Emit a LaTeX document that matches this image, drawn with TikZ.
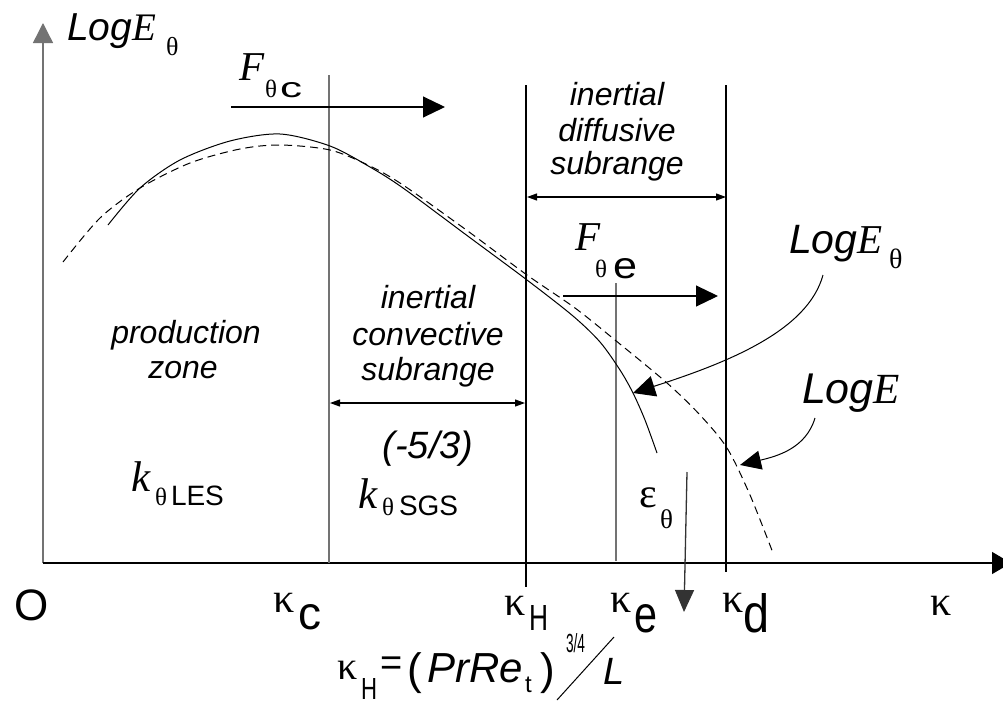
\documentclass[tikz,border=0pt]{standalone}
\usepackage{fontspec}
\setmainfont{Liberation Sans}
\newfontfamily\tmr{Liberation Serif}
\usetikzlibrary{arrows.meta}
\newcommand\fsz[1]{\fontsize{#1}{#1}\selectfont}
\begin{document}
\begin{tikzpicture}[x=1pt,y=-1pt,
  txt/.style={inner sep=0pt, outer sep=0pt, anchor=base west},
  ctr/.style={inner sep=0pt, outer sep=0pt, anchor=base},
  curve/.style={line width=1pt, black},
  dcurve/.style={line width=1pt, black, dash pattern=on 8pt off 5pt},
  bigarrow/.style={line width=1.1pt, -{Triangle[length=22pt,width=21pt]}},
  dblarrow/.style={line width=1.1pt, {Triangle[length=10pt,width=7pt]}-{Triangle[length=10pt,width=7pt]}},
  glin/.style={line width=1.4pt, draw=black!55},
  blin/.style={line width=1.1pt, draw=black},
  itxt/.style={ctr, font=\itshape\fsz{32}}
]
\useasboundingbox (0,0) rectangle (1003,704);

% axes
\coordinate (orig) at (43,563);
\coordinate (ytip) at (43,23);
\coordinate (xtip) at (1011,563);
\draw[glin, -{Triangle[length=20pt,width=20pt]}] (orig) -- (ytip);
\draw[line width=1.4pt, -{Triangle[length=19pt,width=22pt]}] (orig) -- (xtip);

% vertical lines
\coordinate (kcT) at (329,75);  \coordinate (kcB) at (329,563);
\coordinate (kHT) at (526,85);  \coordinate (kHB) at (526,587);
\coordinate (keT) at (616,283); \coordinate (keB) at (616,561);
\coordinate (kdT) at (726,85);  \coordinate (kdB) at (726,572);
\draw[glin] (kcT) -- (kcB);
\draw[blin] (kHT) -- (kHB);
\draw[glin] (keT) -- (keB);
\draw[blin] (kdT) -- (kdB);

% curves
\draw[curve] plot[smooth, tension=0.5] coordinates {(108,225) (140,188) (180,160) (230,141) (280,134) (330,146) (370,167) (403,188) (465,234) (527,280) (573,316) (600,342) (620,370) (633,393) (645,420) (657,453)};
\draw[dcurve] plot[smooth, tension=0.5] coordinates {(63,262) (100,218) (140,188) (190,163) (240,149) (280,145) (330,150) (370,166) (403,185) (465,229) (527,275) (575,308) (615,340) (667,383) (700,415) (727,448) (750,495) (773,553)};

% flux arrows
\coordinate (fcS) at (231,107); \coordinate (fcE) at (445,107);
\draw[bigarrow] (fcS) -- (fcE);
\coordinate (feS) at (563,296); \coordinate (feE) at (718,296);
\draw[bigarrow] (feS) -- (feE);

% range arrows
\coordinate (icL) at (330,403); \coordinate (icR) at (525,403);
\draw[dblarrow] (icL) -- (icR);
\coordinate (idL) at (527,197); \coordinate (idR) at (726,197);
\draw[dblarrow] (idL) -- (idR);

% epsilon arrow
\coordinate (epS) at (687,472); \coordinate (epE) at (684,612);
\draw[line width=1.3pt, draw=black!80, -{Triangle[length=22pt,width=19pt]}] (epS) -- (epE);

% label arrows
\coordinate (s1) at (823,275); \coordinate (t1) at (633,393);
\draw[bigarrow, line width=1pt] (s1) .. controls (808,330) and (730,362) .. (t1);
\coordinate (s2) at (815,418); \coordinate (t2) at (740,465);
\draw[bigarrow, line width=1pt, -{Triangle[length=21pt,width=19pt]}] (s2) .. controls (806,448) and (778,456) .. (t2);

% y-axis label
\node[txt, font=\itshape\fsz{39}] (ylab) at (67,40) {Log{\tmr E}};
\node[txt, font=\tmr\fsz{26}] (ylabs) at (166,55) {θ};

% F theta c
\node[txt, font=\tmr\itshape\fsz{41}] (Fc) at (239,80) {F};
\node[txt, font=\tmr\fsz{25}] (Fcth) at (265,97) {θ};
\node[txt] (Fcc) at (280,97) {\resizebox{22pt}{15pt}{c}};

% inertial diffusive
\node[itxt] (id1) at (617,105) {inertial};
\node[itxt] (id2) at (617,141) {diffusive};
\node[itxt] (id3) at (617,174) {subrange};

% inertial convective
\node[itxt] (ic1) at (428,308) {inertial};
\node[itxt] (ic2) at (428,345) {convective};
\node[itxt] (ic3) at (428,380) {subrange};

% production zone
\node[itxt] (pz1) at (186,343) {production};
\node[itxt] (pz2) at (183,378) {zone};

% slope
\node[ctr, font=\itshape\fsz{38}] (slope) at (428,458) {(-5/3)};

% k LES / SGS
\node[txt, font=\tmr\itshape\fsz{43}] (kl) at (131,491) {k};
\node[txt, font=\tmr\fsz{25}] (klth) at (155,505) {θ};
\node[txt, font=\fsz{28}] (kles) at (171,505) {LES};
\node[txt, font=\tmr\itshape\fsz{43}] (ks) at (358,508) {k};
\node[txt, font=\tmr\fsz{25}] (ksth) at (382,515) {θ};
\node[txt, font=\fsz{28}] (ksgs) at (399,515) {SGS};

% F theta e
\node[txt, font=\tmr\itshape\fsz{41}] (Fe) at (575,250) {F};
\node[txt, font=\tmr\fsz{25}] (Feth) at (595,277) {θ};
\node[txt] (Fee) at (613,278) {\resizebox{24pt}{20pt}{e}};

% LogE theta / LogE labels
\node[txt, font=\itshape\fsz{41}] (lEt) at (789,253) {Log{\tmr E}};
\node[txt, font=\tmr\fsz{28}] (lEts) at (889,268) {θ};
\node[txt, font=\itshape\fsz{43}] (lE) at (802,403) {Log{\tmr E}};

% epsilon theta
\node[txt, font=\tmr\fsz{42}] (eps) at (639,507) {ε};
\node[txt, font=\tmr\fsz{27}] (epsth) at (660,528) {θ};

% bottom labels
\node[txt, font=\fsz{44}] (O) at (14,620) {O};
\node[txt, font=\tmr\fsz{42}] (kc) at (273,612) {κ};
\node[txt] (kcs) at (298,629) {\resizebox{23pt}{25pt}{c}};
\node[txt, font=\tmr\fsz{42}] (kH) at (504,615) {κ};
\node[txt] (kHs) at (529,630) {\resizebox{19pt}{25pt}{H}};
\node[txt, font=\tmr\fsz{42}] (ke) at (610,612) {κ};
\node[txt] (kes) at (634,632) {\resizebox{23pt}{28pt}{e}};
\node[txt, font=\tmr\fsz{42}] (kd) at (722,612) {κ};
\node[txt] (kds) at (743,632) {\resizebox{26pt}{39pt}{d}};
\node[txt, font=\tmr\fsz{42}] (kax) at (930,615) {κ};

% formula
\node[txt, font=\tmr\fsz{40}] (fk) at (337,679) {κ};
\node[txt] (fH) at (361,699) {\resizebox{16pt}{21pt}{H}};
\node[txt, font=\fsz{38}] (feq) at (380,675) {=};
\node[txt, font=\fsz{44}] (fpl) at (407,684) {(};
\node[txt, font=\itshape\fsz{42}] (fpr) at (427,682) {PrRe};
\node[txt, font=\fsz{24}] (ft) at (525,692) {t};
\node[txt, font=\fsz{44}] (fpr2) at (540,684) {)};
\node[txt] (fexp) at (566,652) {\resizebox{19pt}{19pt}{3/4}};
\coordinate (slA) at (557,700); \coordinate (slB) at (614,637);
\draw[line width=1pt] (slA) -- (slB);
\node[txt, font=\itshape\fsz{38}] (fL) at (603,684) {L};
\end{tikzpicture}
\end{document}
